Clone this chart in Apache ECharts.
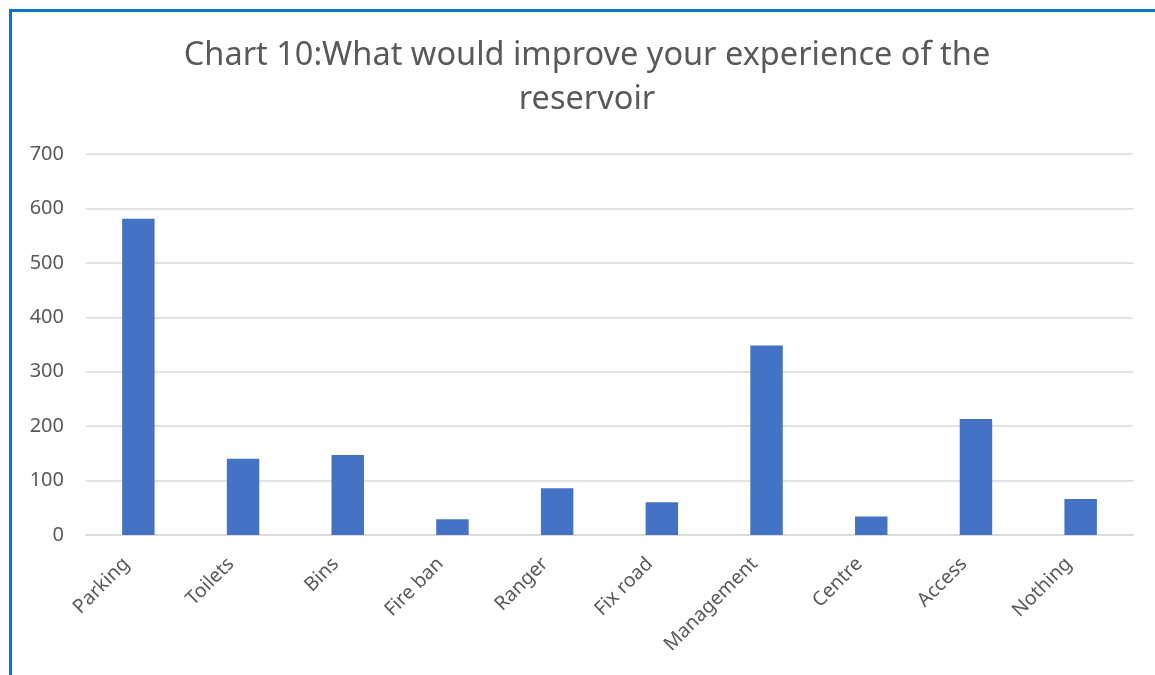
<!DOCTYPE html>
<html><head><meta charset="utf-8">
<script src="https://cdn.jsdelivr.net/npm/echarts@6/dist/echarts.min.js"></script>
<style>
html,body{margin:0;padding:0;background:#fff;}
#frame{position:absolute;left:9px;top:9px;width:1146px;height:666px;border-left:3px solid #0E73C6;border-top:3px solid #0E73C6;box-sizing:border-box;}
#c{position:absolute;left:0;top:0;width:1155px;height:675px;}
</style></head>
<body>
<div id="frame"></div>
<div id="c"></div>
<script>
const categories = ["Parking","Toilets","Bins","Fire ban","Ranger","Fix road","Management","Centre","Access","Nothing"];
const values = [581, 140, 147, 29, 86, 60, 348, 34, 213, 66];
const yTicks = [0, 100, 200, 300, 400, 500, 600, 700];
const titleLines = ["Chart 10:What would improve your experience of the", "reservoir"];

const chart = echarts.init(document.getElementById('c'), null, {renderer:'canvas'});
chart.setOption({
  animation:false,
  backgroundColor:'transparent',
  graphic:[{
    type:'text', x:587, y:34,
    style:{text:titleLines.join('\n'), align:'center', verticalAlign:'top',
      font:'normal 32.5px "Noto Sans"', fill:'#595959', lineHeight:44}
  }],
  grid:{left:86, right:22, top:154, bottom:140, containLabel:false},
  xAxis:{
    type:'category', data:categories,
    axisLine:{lineStyle:{color:'#D9D9D9', width:1.5}},
    axisTick:{show:false},
    axisLabel:{rotate:45, fontFamily:'Noto Sans', fontSize:19.5, color:'#595959', margin:28, interval:0, verticalAlign:'bottom', padding:[0,7,0,0]}
  },
  yAxis:{
    type:'value', min:yTicks[0], max:yTicks[yTicks.length-1], interval:100,
    axisLine:{show:false}, axisTick:{show:false},
    splitLine:{lineStyle:{color:'#D9D9D9', width:1.5}},
    axisLabel:{fontFamily:'Noto Sans', fontSize:20, color:'#595959', margin:22}
  },
  series:[{
    type:'bar', data:values, barWidth:'31%',
    itemStyle:{color:'#4472C4'}
  }]
});
</script>
</body></html>
